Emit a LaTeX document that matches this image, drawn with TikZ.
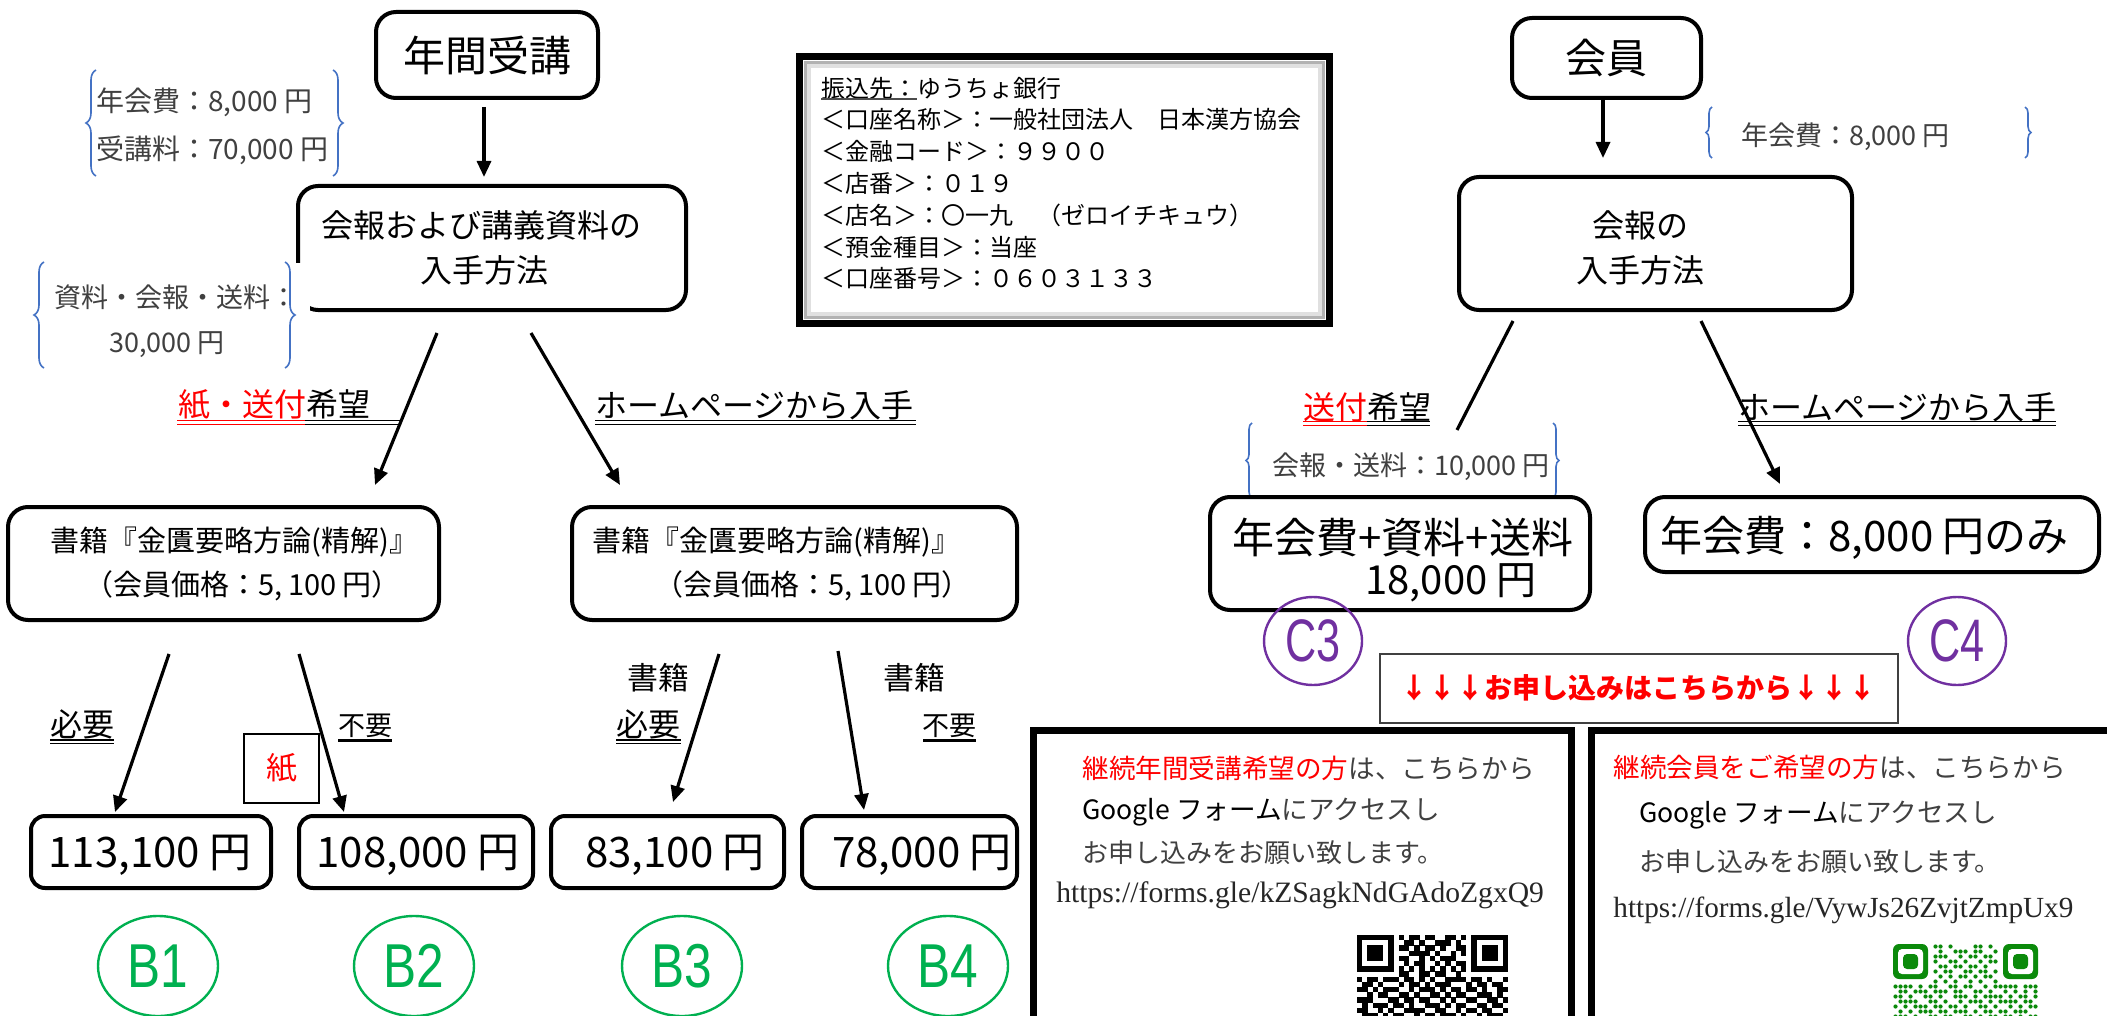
\documentclass[tikz,border=0pt]{standalone}
\usepackage{fontspec}
\setmainfont{Noto Sans CJK JP}
\newfontfamily\serf{Liberation Serif}
\newfontfamily\lsans{Liberation Sans}
\usetikzlibrary{arrows.meta,decorations.pathreplacing,shapes.geometric}
\definecolor{tgray}{HTML}{404040}
\definecolor{bblue}{HTML}{4472C4}
\definecolor{bgreen}{HTML}{00B050}
\definecolor{cpurple}{HTML}{7030A0}
\definecolor{qrgreen}{HTML}{0B8A0B}
\newcommand\jfs[1]{\fontsize{#1pt}{#1pt}\selectfont}
\newcount\qrcol
\def\qrrowA#1#2{\def\qrr{#1}\qrcol=0 \expandafter\qrparseA#2\relax}
\def\qrparseA#1{\ifx#1\relax\else
  \if#11\fill ({1357+\the\qrcol*5.2},{935+\qrr*5.2}) rectangle ++(5.4,5.4);\fi
  \advance\qrcol by 1 \expandafter\qrparseA\fi}
\def\qrrowB#1#2{\def\qrr{#1}\qrcol=0 \expandafter\qrparseB#2\relax}
\def\qrparseB#1{\ifx#1\relax\else
  \if#11\fill[qrgreen] ({1893+(\the\qrcol+0.5)*5},{944+(\qrr+0.5)*5}) circle (2.1);\fi
  \advance\qrcol by 1 \expandafter\qrparseB\fi}
\begin{document}
\begin{tikzpicture}[x=0.5pt,y=-0.5pt,
  box/.style={draw, line width=2pt, rounded corners=10pt, inner sep=0pt},
  pbox/.style={draw, line width=2pt, rounded corners=7pt, inner sep=0pt},
  txt/.style={inner sep=0pt},
  wtxt/.style={inner sep=0pt, anchor=west},
  arr/.style={line width=1.6pt, -{Triangle[length=8pt,width=7pt]}},
  conn/.style={line width=1.6pt},
  brc/.style={bblue, line width=0.8pt, decorate, decoration={brace, amplitude=5pt}},
  brcs/.style={bblue, line width=0.8pt, decorate, decoration={brace, amplitude=3pt}},
  bell/.style={draw=bgreen, ellipse, line width=1.2pt, minimum width=60pt, minimum height=50pt, inner sep=0pt},
  cell/.style={draw=cpurple, ellipse, line width=1.2pt, minimum width=49pt, minimum height=44pt, inner sep=0pt},
  dul/.style={line width=0.65pt},
]
\useasboundingbox (0,0) rectangle (2107,1016);
\clip (0,0) rectangle (2107,1016);

% ---------------- left column ----------------
\node[box, minimum width=111pt, minimum height=43pt, font=\jfs{21}] (nenkan) at (487,55) {年間受講};
\coordinate (a0s) at (484,107); \coordinate (a0e) at (484,177);
\draw[arr] (a0s) -- (a0e);

\node[wtxt, text=tgray, font=\jfs{14}] (fee1) at (96,102) {年会費：8,000 円};
\node[wtxt, text=tgray, font=\jfs{14}] (fee2) at (96,150) {受講料：70,000 円};
\coordinate (br1a) at (96,176); \coordinate (br1b) at (96,70);
\coordinate (br1c) at (333,70); \coordinate (br1d) at (333,176);
\draw[brc] (br1a) -- (br1b);
\draw[brc] (br1c) -- (br1d);

\node[box, minimum width=194pt, minimum height=62pt] (kaiho1) at (492,248) {};
\node[txt, font=\jfs{16}] (k1a) at (481,225) {会報および講義資料の};
\node[txt, font=\jfs{16}] (k1b) at (484,270) {入手方法};

\fill[white] (22,263) rectangle (310,374);
\node[wtxt, text=tgray, font=\jfs{13.5}] (m1) at (54,297) {資料・会報・送料：};
\node[wtxt, text=tgray, font=\jfs{13.5}] (m2) at (109,345) {30,000 円};
\coordinate (br2a) at (44,368); \coordinate (br2b) at (44,262);
\coordinate (br2c) at (285,262); \coordinate (br2d) at (285,368);
\draw[brc] (br2a) -- (br2b);
\draw[brc] (br2c) -- (br2d);

\node[wtxt, font=\jfs{16}] (kami) at (178,405) {\textcolor{red}{紙・送付}希望};
\draw[dul, red] (177,420.5) -- (305,420.5) (177,424.5) -- (305,424.5);
\draw[dul] (305,420.5) -- (400,420.5) (305,424.5) -- (400,424.5);
\node[wtxt, font=\jfs{16}] (hp1) at (595,405) {ホームページから入手};
\draw[dul] (595,420.5) -- (916,420.5) (595,424.5) -- (916,424.5);

\coordinate (l1s) at (437,333); \coordinate (l1e) at (375,485);
\coordinate (r1s) at (531,333); \coordinate (r1e) at (620,485);
\draw[arr] (l1s) -- (l1e);
\draw[arr] (r1s) -- (r1e);

\node[box, minimum width=215.5pt, minimum height=56.5pt] (book1) at (223.5,563.5) {};
\node[wtxt, font=\jfs{14.5}] (bk1a) at (50,542) {書籍『金匱要略方論(精解)』};
\node[wtxt, font=\jfs{14.5}] (bk1b) at (84,586) {（会員価格：5,\hspace{3pt}100\hspace{3pt}円）};
\node[box, minimum width=222.5pt, minimum height=56.5pt] (book2) at (794.5,563.5) {};
\node[wtxt, font=\jfs{14.5}] (bk2a) at (592,542) {書籍『金匱要略方論(精解)』};
\node[wtxt, font=\jfs{14.5}] (bk2b) at (654,586) {（会員価格：5,\hspace{3pt}100\hspace{3pt}円）};

\coordinate (b1s) at (169,654); \coordinate (b1e) at (115,812);
\coordinate (b2s) at (299,654); \coordinate (b2e) at (344,812);
\coordinate (b3s) at (719,654); \coordinate (b3e) at (673,802);
\coordinate (b4s) at (838,651); \coordinate (b4e) at (864,810);
\draw[arr] (b1s) -- (b1e);
\draw[arr] (b2s) -- (b2e);
\draw[arr] (b3s) -- (b3e);
\draw[arr] (b4s) -- (b4e);

\node[txt, font=\jfs{16}] (hitsu1) at (82,724) {必要};
\draw[dul] (50,740) -- (114,740) (50,743.5) -- (114,743.5);
\node[txt, font=\jfs{13.5}] (fuyo1) at (365,726) {不要};
\draw[line width=1.3pt] (338,740.5) -- (392,740.5);
\node[draw, line width=0.8pt, minimum width=37.5pt, minimum height=34.5pt, inner sep=0pt, font=\jfs{15.5}, text=red] (kamibox) at (281.5,768.5) {紙};
\node[txt, font=\jfs{15.5}] (sho1) at (658,678) {書籍};
\node[txt, font=\jfs{16}] (hitsu2) at (648,724) {必要};
\draw[dul] (616,740) -- (681,740) (616,743.5) -- (681,743.5);
\node[txt, font=\jfs{15.5}] (sho2) at (914,678) {書籍};
\node[txt, font=\jfs{13.5}] (fuyo2) at (949,726) {不要};
\draw[line width=1.3pt] (923,740.5) -- (976,740.5);

\node[pbox, minimum width=120pt, minimum height=36pt] (p1) at (151,852) {};
\node[pbox, minimum width=117pt, minimum height=36pt] (p2) at (416,852) {};
\node[pbox, minimum width=116.5pt, minimum height=36pt] (p3) at (667.5,852) {};
\node[pbox, minimum width=107.5pt, minimum height=36pt] (p4) at (909.5,852) {};
\node[txt, font=\jfs{21}] (p1t) at (150,855) {113,100 円};
\node[txt, font=\jfs{21}] (p2t) at (418,855) {108,000 円};
\node[txt, font=\jfs{21}] (p3t) at (675,855) {83,100 円};
\node[txt, font=\jfs{21}] (p4t) at (922,855) {78,000 円};

\node[bell] (B1) at (158,966) {\scalebox{0.8}[1]{\lsans\jfs{31}\color{bgreen}B1}};
\node[bell] (B2) at (414,966) {\scalebox{0.8}[1]{\lsans\jfs{31}\color{bgreen}B2}};
\node[bell] (B3) at (682,966) {\scalebox{0.8}[1]{\lsans\jfs{31}\color{bgreen}B3}};
\node[bell] (B4) at (948,966) {\scalebox{0.8}[1]{\lsans\jfs{31}\color{bgreen}B4}};

% ---------------- bank box ----------------
\node[draw, line width=3.5pt, minimum width=265pt, minimum height=133.5pt, inner sep=0pt] (bank) at (1064.5,190) {};
\draw[black!30, line width=1.6pt] (806,63) rectangle (1323,317);
\draw[black!12, line width=1.6pt] (809,66) rectangle (1320,314);
\node[wtxt, font=\jfs{12}] (bk1) at (821,88) {振込先：ゆうちょ銀行};
\draw[line width=0.6pt, black!70] (821,99) -- (917,99);
\node[wtxt, font=\jfs{12}] (bk2) at (821,119.8) {＜口座名称＞：一般社団法人　日本漢方協会};
\node[wtxt, font=\jfs{12}] (bk3) at (821,151.6) {＜金融コード＞：９９００};
\node[wtxt, font=\jfs{12}] (bk4) at (821,183.4) {＜店番＞：０１９};
\node[wtxt, font=\jfs{12}] (bk5) at (821,215.2) {＜店名＞：〇一九　（ゼロイチキュウ）};
\node[wtxt, font=\jfs{12}] (bk6) at (821,247) {＜預金種目＞：当座};
\node[wtxt, font=\jfs{12}] (bk7) at (821,278.8) {＜口座番号＞：０６０３１３３};

% ---------------- right column ----------------
\node[box, minimum width=94.5pt, minimum height=40pt, font=\jfs{20.5}] (kaiin) at (1606.5,58) {会員};
\coordinate (a5s) at (1603,99); \coordinate (a5e) at (1603,158);
\draw[arr] (a5s) -- (a5e);

\node[wtxt, text=tgray, font=\jfs{13.5}] (fee3) at (1741,137) {年会費：8,000 円};
\coordinate (br3a) at (1712,158); \coordinate (br3b) at (1712,107);
\coordinate (br3c) at (2025,107); \coordinate (br3d) at (2025,158);
\draw[brcs] (br3a) -- (br3b);
\draw[brcs] (br3c) -- (br3d);

\node[box, minimum width=196.5pt, minimum height=66.5pt] (kaiho2) at (1655.5,243.5) {};
\node[txt, font=\jfs{16}] (k2a) at (1640,225) {会報の};
\node[txt, font=\jfs{16}] (k2b) at (1640,270) {入手方法};

\coordinate (l2s) at (1513,321); \coordinate (l2e) at (1457,430);
\coordinate (r2s) at (1701,321); \coordinate (r2e) at (1780,484);
\draw[conn] (l2s) -- (l2e);
\draw[arr] (r2s) -- (r2e);

\node[wtxt, font=\jfs{16}] (sofu) at (1303,407) {\textcolor{red}{送付}希望};
\draw[dul, red] (1303,421.5) -- (1367,421.5) (1303,425.5) -- (1367,425.5);
\draw[dul] (1367,421.5) -- (1430,421.5) (1367,425.5) -- (1430,425.5);
\node[wtxt, font=\jfs{16}] (hp2) at (1738,407) {ホームページから入手};
\draw[dul] (1738,421.5) -- (2056,421.5) (1738,425.5) -- (2056,425.5);

\node[wtxt, text=tgray, font=\jfs{13.5}] (fee4) at (1272,467) {会報・送料：10,000 円};
\coordinate (br4a) at (1252,498); \coordinate (br4b) at (1252,423);
\coordinate (br4c) at (1553,423); \coordinate (br4d) at (1553,498);
\draw[brcs] (br4a) -- (br4b);
\draw[brcs] (br4c) -- (br4d);

\node[box, minimum width=190pt, minimum height=56.5pt] (c3box) at (1400,553.5) {};
\node[wtxt, font=\jfs{21}] (c3a) at (1232,538) {年会費+資料+送料};
\node[wtxt, font=\jfs{20}] (c3b) at (1365,583) {18,000 円};
\node[box, minimum width=227pt, minimum height=37.5pt] (c4box) at (1872,534.5) {};
\node[wtxt, font=\jfs{21}] (c4a) at (1660,538) {年会費：8,000 円のみ};

\node[cell] (C3) at (1313,641) {\scalebox{0.72}[1]{\lsans\jfs{30}\color{cpurple}C3}};
\node[cell] (C4) at (1957,641) {\scalebox{0.72}[1]{\lsans\jfs{30}\color{cpurple}C4}};

\node[draw=black!75, line width=1pt, minimum width=259pt, minimum height=34.5pt, inner sep=0pt] (mous) at (1639,688.5) {};
\node[txt, font=\bfseries\jfs{14}, text=red] (moust) at (1638,688) {↓↓↓お申し込みはこちらから↓↓↓};

% ---------------- QR boxes ----------------
\draw[line width=3.5pt] (1033.5,730.5) rectangle (1571.5,1100);
\draw[line width=3.5pt] (1591.5,730.5) rectangle (2160,1100);

\node[wtxt, font=\jfs{13.3}, text=tgray] (q1a) at (1082,768) {\textcolor{red}{継続年間受講希望の方}は、こちらから};
\node[wtxt, font=\jfs{13.3}] (q1b) at (1082,812) {\textcolor{black}{Google フォーム}\textcolor{tgray}{にアクセスし}};
\node[wtxt, font=\jfs{13}, text=tgray] (q1c) at (1082,853) {お申し込みをお願い致します。};
\node[wtxt, font=\serf\jfs{14.8}, text=black!85] (q1d) at (1056,895) {https://forms.gle/kZSagkNdGAdoZgxQ9};

\node[wtxt, font=\jfs{13.3}, text=tgray] (q2a) at (1613,767) {\textcolor{red}{継続会員をご希望の方}は、こちらから};
\node[wtxt, font=\jfs{13.3}] (q2b) at (1639,815) {\textcolor{black}{Google フォーム}\textcolor{tgray}{にアクセスし}};
\node[wtxt, font=\jfs{13}, text=tgray] (q2c) at (1639,862) {お申し込みをお願い致します。};
\node[wtxt, font=\serf\jfs{14.6}, text=black!85] (q2d) at (1613,910) {https://forms.gle/VywJs26ZvjtZmpUx9};

% QR left (black)
\foreach \s [count=\i from 0] in {
11111110101101100110101111111,
10000010011010011101001000001,
10111010110101101001101011101,
10111010001111010010101011101,
10111010110010101110001011101,
10000010010110010101101000001,
11111110101010101010101111111,
00000000110011011001000000000,
10110111011010100111101101001,
01101000101101011100010110110,
11010111001011101011011010011,
00101100110100110101100111010,
11100011011011001010011001101,
01011101101001110101100110110,
11001010011110011001011011001,
01110101100101101110100101110,
10101110011011010011011100101}
{\qrrowA{\i}{\s}}

% QR right (green dots)
\foreach \fx in {1893,2003} {
  \fill[qrgreen, rounded corners=3pt] (\fx,944) rectangle ++(35,35);
  \fill[white, rounded corners=2pt] (\fx+5,949) rectangle ++(25,25);
  \fill[qrgreen, rounded corners=2pt] (\fx+10,954) rectangle ++(15,15);
}
\foreach \s [count=\i from 0] in {
00000000110100001101000000000,
00000000010011101100100000000,
00000000111001011011000000000,
00000000100110100101100000000,
00000000011011011010000000000,
00000000101100110110100000000,
00000000010101101011000000000,
00000000101010010100100000000,
11110101100110110010111110111,
01101110111011001101001010101,
11010011010011101011110101101,
01111001101001011101011110110,
10101110110110100110100101011,
01010111011011101011011011100,
11101001101100110101101101011}
{\qrrowB{\i}{\s}}
\end{tikzpicture}
\end{document}
